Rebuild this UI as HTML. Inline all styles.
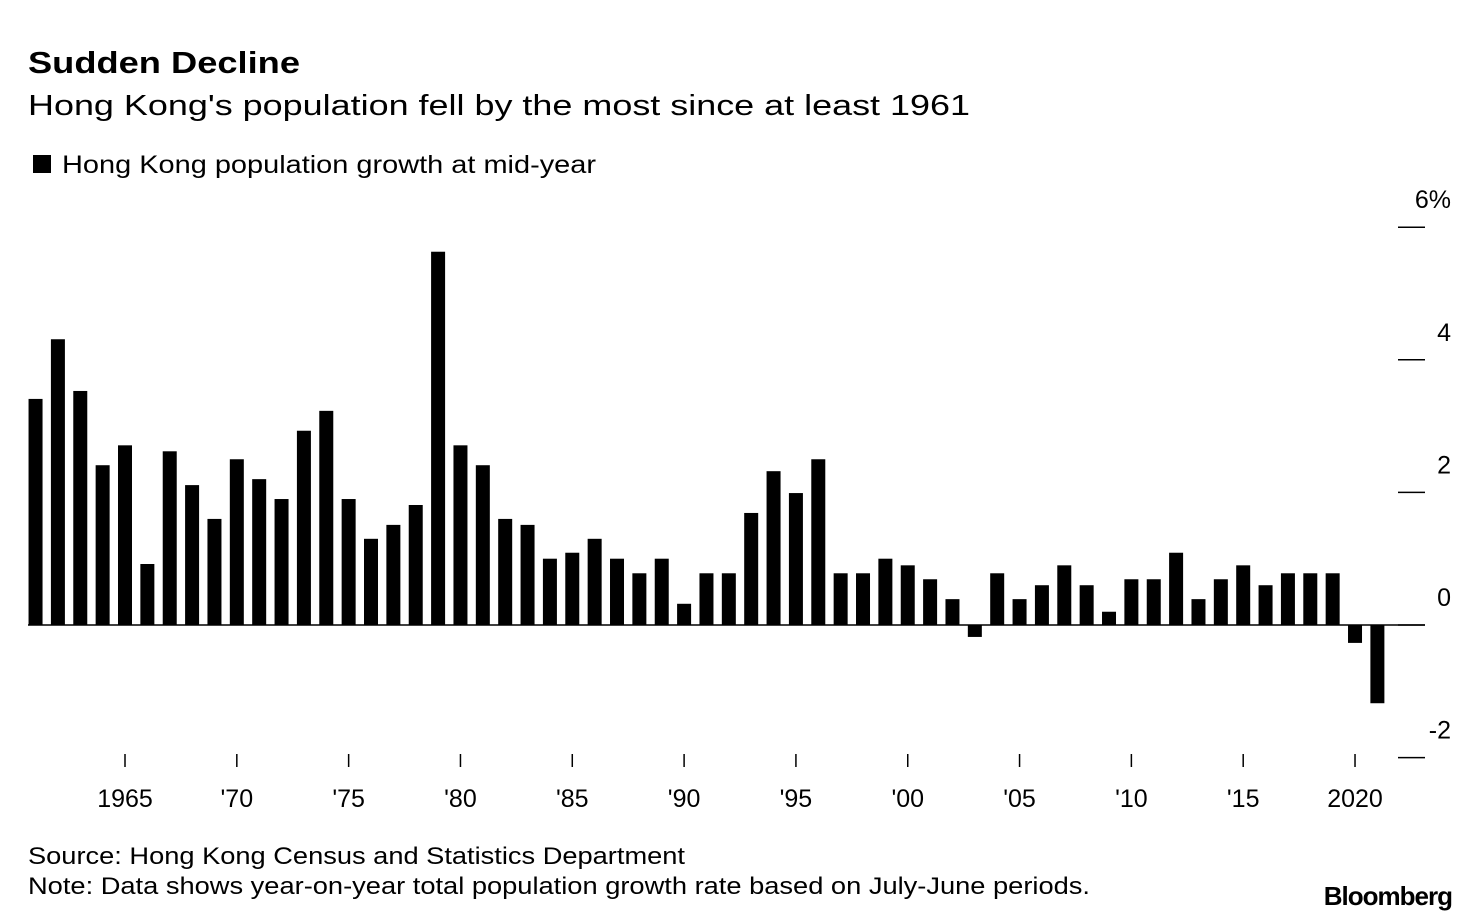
<!DOCTYPE html>
<html><head><meta charset="utf-8"><style>
body{margin:0;background:#fff;font-family:"Liberation Sans",Arial,sans-serif;}
svg{display:block}
</style></head><body>
<svg width="1480" height="924" xmlns="http://www.w3.org/2000/svg" font-family="Liberation Sans, Arial, sans-serif">
<text x="28" y="73" font-size="31" font-weight="bold" textLength="272" lengthAdjust="spacingAndGlyphs">Sudden Decline</text>
<text x="28" y="115" font-size="29" textLength="942" lengthAdjust="spacingAndGlyphs">Hong Kong's population fell by the most since at least 1961</text>
<rect x="33" y="155" width="18" height="18" fill="#000"/>
<text x="62" y="173" font-size="25" textLength="534" lengthAdjust="spacingAndGlyphs">Hong Kong population growth at mid-year</text>
<g id="bars"></g>
<g id="axes"></g>
<text x="28" y="864" font-size="24" textLength="657" lengthAdjust="spacingAndGlyphs">Source: Hong Kong Census and Statistics Department</text>
<text x="28" y="894" font-size="24" textLength="1062" lengthAdjust="spacingAndGlyphs">Note: Data shows year-on-year total population growth rate based on July-June periods.</text>
<text x="1452" y="905" font-size="26" font-weight="bold" text-anchor="end" letter-spacing="-1">Bloomberg</text>
</svg>
<script>
const years = [];
for (let y = 1961; y <= 2021; y++) years.push(y);
const values = [3.41,4.31,3.53,2.41,2.71,0.92,2.62,2.11,1.60,2.50,2.20,1.90,2.93,3.23,1.90,1.30,1.51,1.81,5.63,2.71,2.41,1.60,1.51,1.0,1.09,1.30,1.0,0.78,1.0,0.32,0.78,0.78,1.69,2.32,1.99,2.50,0.78,0.78,1.0,0.90,0.69,0.39,-0.18,0.78,0.39,0.60,0.90,0.60,0.20,0.69,0.69,1.09,0.39,0.69,0.90,0.60,0.78,0.78,0.78,-0.27,-1.18];
const yTicks = [6,4,2,0,-2];
const yTickLabels = ["6%","4","2","0","-2"];
const xTicks = [1965,1970,1975,1980,1985,1990,1995,2000,2005,2010,2015,2020];
const xTickLabels = ["1965","'70","'75","'80","'85","'90","'95","'00","'05","'10","'15","2020"];
const NS="http://www.w3.org/2000/svg";
const xScale = yr => 125 + (yr - 1965) * 22.364;
const yScale = v => 625 - v * 66.3;
const barW = 14;
const bars = document.getElementById('bars');
years.forEach((yr,i)=>{
  const v = values[i];
  const r = document.createElementNS(NS,'rect');
  r.setAttribute('x', xScale(yr) - barW/2);
  r.setAttribute('y', Math.min(yScale(v), yScale(0)));
  r.setAttribute('width', barW);
  r.setAttribute('height', Math.abs(yScale(v) - yScale(0)));
  r.setAttribute('fill', '#000');
  
  
  bars.appendChild(r);
});
const axes = document.getElementById('axes');
const zl = document.createElementNS(NS,'line');
zl.setAttribute('x1',28); zl.setAttribute('x2',1425);
zl.setAttribute('y1',yScale(0)); zl.setAttribute('y2',yScale(0));
zl.setAttribute('stroke','#000'); zl.setAttribute('stroke-width','1.5');


axes.appendChild(zl);
yTicks.forEach((t,i)=>{
  const l = document.createElementNS(NS,'line');
  l.setAttribute('x1',1398); l.setAttribute('x2',1425);
  l.setAttribute('y1',yScale(t)); l.setAttribute('y2',yScale(t));
  l.setAttribute('stroke','#000'); l.setAttribute('stroke-width','1.5');
  
  
  axes.appendChild(l);
  const tx = document.createElementNS(NS,'text');
  tx.setAttribute('x',1451); tx.setAttribute('y',yScale(t)-19);
  tx.setAttribute('font-size','25'); tx.setAttribute('text-anchor','end');
  tx.textContent = yTickLabels[i];
  
  
  axes.appendChild(tx);
});
xTicks.forEach((t,i)=>{
  const l = document.createElementNS(NS,'line');
  l.setAttribute('x1',xScale(t)); l.setAttribute('x2',xScale(t));
  l.setAttribute('y1',754); l.setAttribute('y2',767);
  l.setAttribute('stroke','#000'); l.setAttribute('stroke-width','1.5');
  
  
  axes.appendChild(l);
  const tx = document.createElementNS(NS,'text');
  tx.setAttribute('x',xScale(t)); tx.setAttribute('y',807);
  tx.setAttribute('font-size','25'); tx.setAttribute('text-anchor','middle');
  tx.textContent = xTickLabels[i];
  
  
  axes.appendChild(tx);
});
</script>
</body></html>
